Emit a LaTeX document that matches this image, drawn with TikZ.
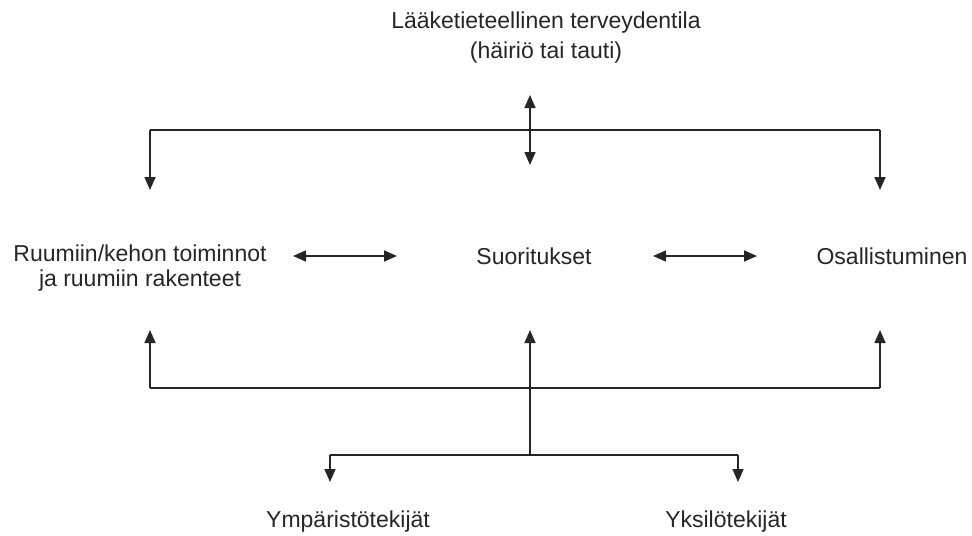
\documentclass[tikz,border=0pt]{standalone}
\usepackage{fontspec}
\setmainfont{Liberation Sans}
\usetikzlibrary{arrows.meta, positioning}

\begin{document}
\begin{tikzpicture}[
  x = 0.5pt, y = -0.5pt,
  label/.style={align=center, inner sep=0pt, text=black!85, font=\fontsize{11.5}{12.5}\selectfont},
  link/.style={thick, black!85},
  oneway/.style={link, -{Triangle[width=5.5pt, length=6.5pt]}},
  twoway/.style={link, {Triangle[width=5.5pt, length=6.5pt]}-{Triangle[width=5.5pt, length=6.5pt]}}
]
%general params
\def\xl{150} %left column
\def\xm{530} %middle column
\def\xr{880} %right column
\def\ytop{130} %upper bar
\def\ybot{388} %lower bar
\def\yfac{455} %factor bar
\useasboundingbox (0,0) rectangle (972,535);

%labels
\node[label, font=\fontsize{11.5}{15}\selectfont] (health) at (546,38) {Lääketieteellinen terveydentila\\(häiriö tai tauti)};
\node[label] (body) at (140,268) {Ruumiin/kehon toiminnot\\ja ruumiin rakenteet};
\node[label] (activity) at (534,256) {Suoritukset};
\node[label] (participation) at (892,256) {Osallistuminen};
\node[label] (environment) at (348,522) {Ympäristötekijät};
\node[label] (personal) at (726,522) {Yksilötekijät};

%connector points
\coordinate (hUp) at (\xm,95);
\coordinate (hDown) at (\xm,165);
\coordinate (tl) at (\xl,\ytop);
\coordinate (tr) at (\xr,\ytop);
\coordinate (tlEnd) at (\xl,190);
\coordinate (trEnd) at (\xr,190);
\coordinate (bl) at (\xl,\ybot);
\coordinate (br) at (\xr,\ybot);
\coordinate (blEnd) at (\xl,330);
\coordinate (brEnd) at (\xr,330);
\coordinate (mEnd) at (\xm,330);
\coordinate (fm) at (\xm,\yfac);
\coordinate (fl) at (330,\yfac);
\coordinate (fr) at (738,\yfac);
\coordinate (flEnd) at (330,482);
\coordinate (frEnd) at (738,482);
\coordinate (a1) at (293,256);
\coordinate (a2) at (397,256);
\coordinate (a3) at (653,256);
\coordinate (a4) at (757,256);

%upper part
\draw[twoway] (hUp) -- (hDown);
\draw[link] (tl) -- (tr);
\draw[oneway] (tl) -- (tlEnd);
\draw[oneway] (tr) -- (trEnd);

%middle row
\draw[twoway] (a1) -- (a2);
\draw[twoway] (a3) -- (a4);

%lower part
\draw[oneway] (bl) -- (blEnd);
\draw[oneway] (br) -- (brEnd);
\draw[link] (bl) -- (br);
\draw[oneway] (fm) -- (mEnd);
\draw[link] (fl) -- (fr);
\draw[oneway] (fl) -- (flEnd);
\draw[oneway] (fr) -- (frEnd);

\end{tikzpicture}
\end{document}
